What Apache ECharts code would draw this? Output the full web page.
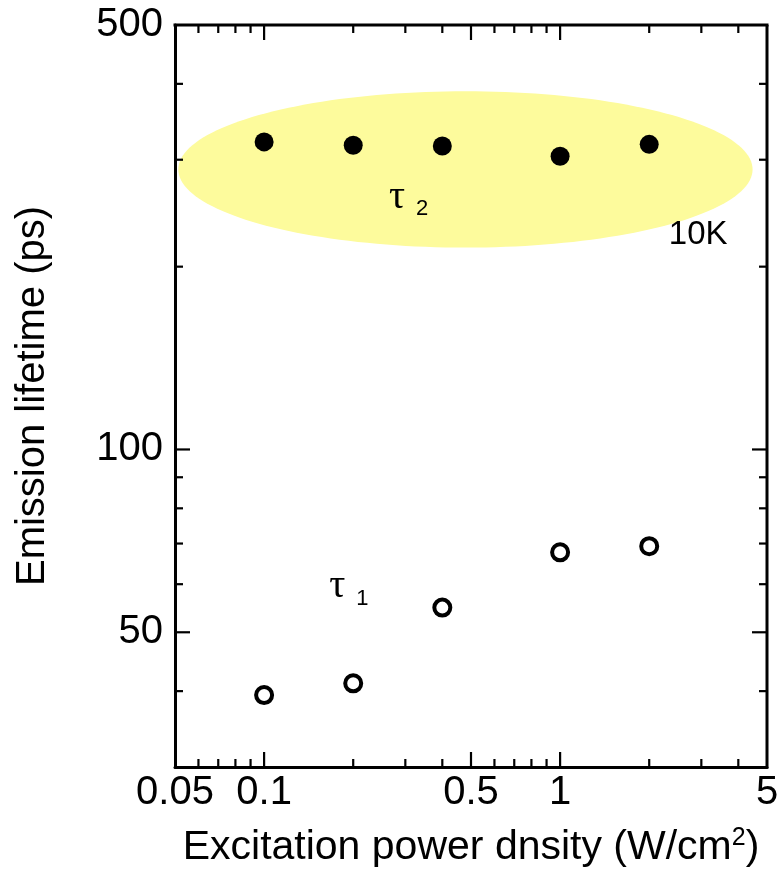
<!DOCTYPE html>
<html>
<head>
<meta charset="utf-8">
<script src="https://cdn.jsdelivr.net/npm/echarts@6/dist/echarts.min.js"></script>
<style>
  html, body { margin: 0; padding: 0; background: #ffffff; }
  #chart { width: 780px; height: 879px; }
</style>
</head>
<body>
<div id="chart"></div>
<script>
// Excitation power density (W/cm^2)
const powerDensity = [0.1, 0.2, 0.4, 1, 2];
// Slow component tau2 (ps), filled circles
const tau2 = [321, 317, 316, 304, 318];
// Fast component tau1 (ps), open circles
const tau1 = [39.4, 41.2, 54.9, 67.7, 69.3];

// Axis ranges and tick values
const xRange = [0.05, 5];
const yRange = [30, 500];
const xTickLabels = [0.05, 0.1, 0.5, 1, 5];
const yTickLabels = [50, 100, 500];
const xMajorTicks = [0.1, 0.5, 1];
const xMinorTicks = [0.06, 0.07, 0.08, 0.09, 0.2, 0.3, 0.4, 0.6, 0.7, 0.8, 0.9, 2, 3, 4];
const yMajorTicks = [50, 100];
const yMinorTicks = [40, 60, 70, 80, 90, 200, 300, 400];

// Highlight ellipse around the tau2 points (bounding box in data units)
const ellipseX = [0.0513, 4.47];
const ellipseY = [215, 389];

// Annotations: anchor in data units, symbol and subscript
const noteX = [0.2643, 0.166, 2.33];
const noteY = [280.6, 64.1, 240];
const noteMain = ['τ', 'τ', '10K'];
const noteSub = ['2', '1', ''];

const FONT = 'Liberation Sans, Arial, sans-serif';
const SERIF = 'Liberation Serif, Times New Roman, serif';
const MAJOR_LEN = 15;
const MINOR_LEN = 8;

const fmt = v => String(+(+v).toPrecision(6));

function tickItems(values, len) {
  return values.map(v => [v, len]);
}

// Ticks drawn inward on both opposite frame edges
function renderXTicks(params, api) {
  const px = api.coord([api.value(0), yRange[0]])[0];
  const len = api.value(1);
  const bottom = api.coord([xRange[0], yRange[0]])[1];
  const top = api.coord([xRange[0], yRange[1]])[1];
  const style = { stroke: '#000', lineWidth: 2.2 };
  return {
    type: 'group',
    children: [
      { type: 'line', shape: { x1: px, y1: bottom, x2: px, y2: bottom - len }, style },
      { type: 'line', shape: { x1: px, y1: top, x2: px, y2: top + len }, style }
    ]
  };
}

function renderYTicks(params, api) {
  const py = api.coord([xRange[0], api.value(0)])[1];
  const len = api.value(1);
  const left = api.coord([xRange[0], yRange[0]])[0];
  const right = api.coord([xRange[1], yRange[0]])[0];
  const style = { stroke: '#000', lineWidth: 2.2 };
  return {
    type: 'group',
    children: [
      { type: 'line', shape: { x1: left, y1: py, x2: left + len, y2: py }, style },
      { type: 'line', shape: { x1: right, y1: py, x2: right - len, y2: py }, style }
    ]
  };
}

// Right and top frame edges
function renderFrame(params, api) {
  const p0 = api.coord([xRange[0], yRange[0]]);
  const p1 = api.coord([xRange[1], yRange[1]]);
  const style = { stroke: '#000', lineWidth: 3 };
  return {
    type: 'group',
    children: [
      { type: 'line', shape: { x1: p0[0] - 1.5, y1: p1[1], x2: p1[0] + 1.5, y2: p1[1] }, style },
      { type: 'line', shape: { x1: p1[0], y1: p1[1], x2: p1[0], y2: p0[1] + 1.5 }, style }
    ]
  };
}

function renderEllipse(params, api) {
  const p0 = api.coord([ellipseX[0], ellipseY[0]]);
  const p1 = api.coord([ellipseX[1], ellipseY[1]]);
  const cx = (p0[0] + p1[0]) / 2;
  const cy = (p0[1] + p1[1]) / 2;
  const rx = Math.abs(p1[0] - p0[0]) / 2;
  const ry = Math.abs(p1[1] - p0[1]) / 2;
  const pts = [];
  const n = 180;
  for (let i = 0; i < n; i++) {
    const a = (i / n) * Math.PI * 2;
    pts.push([cx + rx * Math.cos(a), cy + ry * Math.sin(a)]);
  }
  return {
    type: 'polygon',
    shape: { points: pts },
    style: { fill: '#fdfb9c', stroke: null }
  };
}

function renderNote(params, api) {
  const i = params.dataIndex;
  const p = api.coord([api.value(0), api.value(1)]);
  const isSymbol = noteSub[i] !== '';
  const children = [{
    type: 'text',
    x: 0,
    y: 0,
    style: {
      text: noteMain[i],
      fontFamily: isSymbol ? SERIF : FONT,
      fontSize: isSymbol ? 40 : 33,
      fill: '#000',
      align: 'left',
      verticalAlign: 'top'
    }
  }];
  if (isSymbol) {
    children.push({
      type: 'text',
      x: 27,
      y: 21,
      style: {
        text: noteSub[i],
        fontFamily: FONT,
        fontSize: 22,
        fill: '#000',
        align: 'left',
        verticalAlign: 'top'
      }
    });
  }
  return { type: 'group', x: p[0], y: p[1], children };
}

const chart = echarts.init(document.getElementById('chart'), null, { renderer: 'canvas' });

chart.setOption({
  backgroundColor: '#ffffff',
  animation: false,
  grid: { left: 175, right: 13, top: 25, bottom: 112, containLabel: false, outerBoundsMode: 'none' },
  xAxis: {
    type: 'log',
    logBase: 10,
    min: xRange[0],
    max: xRange[1],
    name: 'Excitation power dnsity (W/cm{sup|2})',
    nameLocation: 'middle',
    nameGap: 59,
    nameTextStyle: {
      fontFamily: FONT, fontSize: 41, color: '#000',
      rich: { sup: { fontFamily: FONT, fontSize: 25, color: '#000', verticalAlign: 'top', padding: [0, 0, 18, 0] } }
    },
    axisLine: { show: true, onZero: false, lineStyle: { color: '#000', width: 3 } },
    axisTick: { show: false },
    splitLine: { show: false },
    minorTick: { show: false },
    axisLabel: {
      customValues: xTickLabels,
      formatter: fmt,
      margin: 6,
      hideOverlap: false,
      fontFamily: FONT, fontSize: 40, color: '#000'
    }
  },
  yAxis: {
    type: 'log',
    logBase: 10,
    min: yRange[0],
    max: yRange[1],
    name: 'Emission lifetime (ps)',
    nameLocation: 'middle',
    nameGap: 122,
    nameTextStyle: { fontFamily: FONT, fontSize: 40, color: '#000' },
    axisLine: { show: true, onZero: false, lineStyle: { color: '#000', width: 3 } },
    axisTick: { show: false },
    splitLine: { show: false },
    minorTick: { show: false },
    axisLabel: {
      customValues: yTickLabels,
      formatter: fmt,
      margin: 12,
      hideOverlap: false,
      fontFamily: FONT, fontSize: 40, color: '#000'
    }
  },
  series: [
    {
      type: 'custom',
      name: 'highlight',
      renderItem: renderEllipse,
      data: [[ellipseX[0], ellipseY[0]]],
      z: 1,
      silent: true
    },
    {
      type: 'custom',
      name: 'frame',
      renderItem: renderFrame,
      data: [[xRange[0], yRange[0]]],
      clip: false,
      z: 5,
      silent: true
    },
    {
      type: 'custom',
      name: 'ticksX',
      renderItem: renderXTicks,
      data: tickItems(xMajorTicks, MAJOR_LEN).concat(tickItems(xMinorTicks, MINOR_LEN)),
      encode: { x: 0 },
      clip: false,
      z: 5,
      silent: true
    },
    {
      type: 'custom',
      name: 'ticksY',
      renderItem: renderYTicks,
      data: tickItems(yMajorTicks, MAJOR_LEN).concat(tickItems(yMinorTicks, MINOR_LEN)),
      encode: { y: 0 },
      clip: false,
      z: 5,
      silent: true
    },
    {
      type: 'custom',
      name: 'notes',
      renderItem: renderNote,
      data: noteX.map((x, i) => [x, noteY[i]]),
      clip: false,
      z: 6,
      silent: true
    },
    {
      type: 'scatter',
      name: 'tau2',
      data: powerDensity.map((x, i) => [x, tau2[i]]),
      symbol: 'circle',
      symbolSize: 19,
      itemStyle: { color: '#000', borderWidth: 0, opacity: 1 },
      z: 10
    },
    {
      type: 'scatter',
      name: 'tau1',
      data: powerDensity.map((x, i) => [x, tau1[i]]),
      symbol: 'circle',
      symbolSize: 16,
      itemStyle: { color: '#fff', borderColor: '#000', borderWidth: 4, opacity: 1 },
      z: 10
    }
  ]
});
</script>
</body>
</html>
